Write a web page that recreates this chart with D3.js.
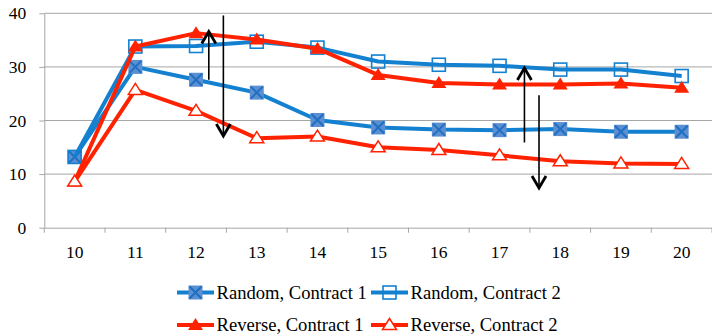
<!DOCTYPE html>
<html><head><meta charset="utf-8">
<script src="https://cdn.jsdelivr.net/npm/d3@7"></script>
<style>body{margin:0;background:#fff}svg{display:block}</style>
</head><body>
<svg id="c" width="712" height="336"></svg>
<script>
const categories = [10,11,12,13,14,15,16,17,18,19,20];
const randomC1  = [13.2,30.0,27.6,25.2,20.1,18.7,18.3,18.2,18.4,17.9,17.9];
const randomC2  = [13.2,33.8,33.9,34.7,33.6,31.0,30.4,30.2,29.5,29.5,28.3];
const reverseC1 = [8.6,33.8,36.3,35.1,33.4,28.5,27.0,26.7,26.7,26.9,26.1];
const reverseC2 = [8.6,25.7,21.8,16.7,17.0,15.0,14.5,13.5,12.4,12.0,11.9];
const yTicks = [0,10,20,30,40];
const seriesNames = ["Random, Contract 1","Random, Contract 2","Reverse, Contract 1","Reverse, Contract 2"];
// annotation arrows: category position, start value, tip value
const arrowX    = [12.21,12.45,17.41,17.65];
const arrowFrom = [27.6,39.6,15.9,24.7];
const arrowTo   = [36.6,17.1,29.8,7.4];

(function(){
const BLUE="#1380d0", BLUE_FILL="#5b8fd2", BLUE_X="#1f6fc2", RED="#ff2200", GRID="#a6a6a6";
const FONT="'Liberation Serif','Times New Roman',serif";

const svg=d3.select("#c");
const pl=44.3, pr=712, pt=13.3, pb=227.7;
const x=d3.scaleBand().domain(categories).range([pl,pr]);
const y=d3.scaleLinear().domain([0,40]).range([pb,pt]);
const xc=d3.scaleLinear().domain([10,20]).range([x(10)+x.bandwidth()/2,x(20)+x.bandwidth()/2]);

svg.append("g").selectAll("line").data(yTicks.filter(d=>d>0)).join("line")
  .attr("x1",pl).attr("x2",pr).attr("y1",d=>y(d)).attr("y2",d=>y(d))
  .attr("stroke",GRID).attr("stroke-width",1);

const ya=svg.append("g").attr("transform",`translate(${pl},0)`)
  .call(d3.axisLeft(y).tickValues(yTicks).tickSize(5).tickPadding(13).tickSizeOuter(0));
ya.select(".domain").attr("stroke",GRID);
ya.selectAll(".tick line").attr("stroke",GRID);
ya.selectAll("text").attr("font-family",FONT).attr("font-size",17.5).attr("fill","#000");

const xa=svg.append("g").attr("transform",`translate(0,${pb})`)
  .call(d3.axisBottom(x).tickSize(0).tickPadding(18));
xa.select(".domain").attr("stroke",GRID);
xa.selectAll("text").attr("font-family",FONT).attr("font-size",17.5).attr("fill","#000");
const bounds=categories.map(c=>x(c)).concat([pr]);
xa.append("g").selectAll("line").data(bounds).join("line")
  .attr("x1",d=>d).attr("x2",d=>d).attr("y1",0).attr("y2",5).attr("stroke",GRID);

const line=d3.line().x((d,i)=>x(categories[i])+x.bandwidth()/2).y(d=>y(d));
const allSeries=[randomC1,randomC2,reverseC1,reverseC2];
const colors=[BLUE,BLUE,RED,RED];

function marker(g,type,cx,cy){
  if(type===0){
    g.append("rect").attr("x",cx-7).attr("y",cy-7).attr("width",14).attr("height",14).attr("fill",BLUE_FILL);
    g.append("path").attr("d",`M${cx-6},${cy-6}L${cx+6},${cy+6}M${cx+6},${cy-6}L${cx-6},${cy+6}`).attr("stroke",BLUE_X).attr("stroke-width",2);
  } else if(type===1){
    g.append("rect").attr("x",cx-6.5).attr("y",cy-6.5).attr("width",13).attr("height",13).attr("fill","none").attr("stroke",BLUE).attr("stroke-width",1.6);
  } else if(type===2){
    g.append("path").attr("d",`M${cx},${cy-7}L${cx+7.5},${cy+5}L${cx-7.5},${cy+5}Z`).attr("fill",RED);
  } else {
    g.append("path").attr("d",`M${cx},${cy-6.5}L${cx+7},${cy+4.5}L${cx-7},${cy+4.5}Z`).attr("fill","#fff").attr("stroke",RED).attr("stroke-width",1.5);
  }
}

allSeries.forEach((s,k)=>{
  const g=svg.append("g");
  g.append("path").attr("d",line(s)).attr("fill","none").attr("stroke",colors[k]).attr("stroke-width",4).attr("stroke-linejoin","round");
  s.forEach((v,i)=>marker(g,k,x(categories[i])+x.bandwidth()/2,y(v)));
});

const ag=svg.append("g");
arrowX.forEach((ax,i)=>{
  const px=xc(ax), y0=y(arrowFrom[i]), y1=y(arrowTo[i]);
  const dir=y1<y0?1:-1;
  ag.append("line").attr("x1",px).attr("x2",px).attr("y1",y0).attr("y2",y1+dir*1).attr("stroke","#000").attr("stroke-width",1.6);
  ag.append("path").attr("d",`M${px-7},${y1+dir*12}L${px},${y1}L${px+7},${y1+dir*12}`)
    .attr("fill","none").attr("stroke","#000").attr("stroke-width",2.8).attr("stroke-linejoin","miter");
});

const lx=[177,371], ly=[292.5,325];
seriesNames.forEach((n,k)=>{
  const cx=lx[k%2], cy=ly[Math.floor(k/2)];
  const g=svg.append("g");
  g.append("line").attr("x1",cx).attr("x2",cx+37).attr("y1",cy).attr("y2",cy).attr("stroke",colors[k]).attr("stroke-width",4);
  marker(g,k,cx+18.5,cy);
  g.append("text").attr("x",cx+39.5).attr("y",cy+6).attr("font-family",FONT).attr("font-size",18.6).text(n);
});
})();
</script>
</body></html>
